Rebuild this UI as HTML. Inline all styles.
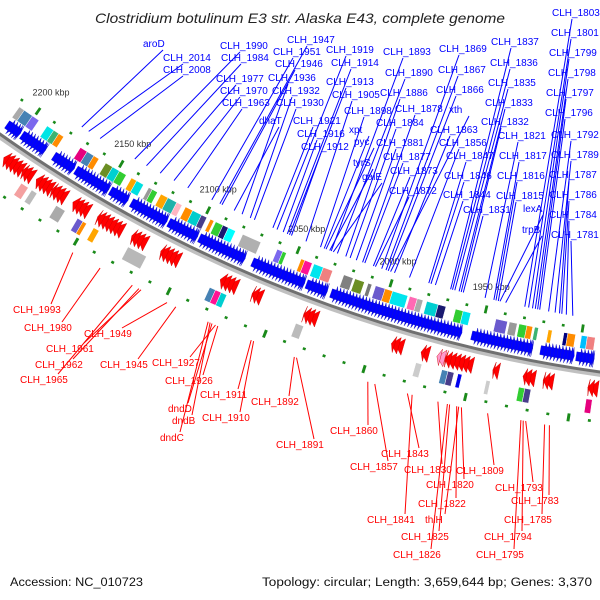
<!DOCTYPE html>
<html><head><meta charset="utf-8"><title>Clostridium botulinum E3 genome map</title>
<style>html,body{margin:0;padding:0;background:#fff;}svg{display:block;font-family:"Liberation Sans",sans-serif;}</style>
</head><body>
<svg id="map" width="600" height="600" viewBox="0 0 600 600" xmlns="http://www.w3.org/2000/svg">
<text x="95" y="23" font-size="14" font-style="italic" fill="#222" textLength="410" lengthAdjust="spacingAndGlyphs">Clostridium botulinum E3 str. Alaska E43, complete genome</text>
<g id="features"></g>
<g id="labels"></g>
<text x="10" y="586" font-size="11.5" fill="#111" textLength="133" lengthAdjust="spacingAndGlyphs">Accession: NC_010723</text>
<text x="262" y="586" font-size="11.5" fill="#111" textLength="330" lengthAdjust="spacingAndGlyphs">Topology: circular; Length: 3,659,644 bp; Genes: 3,370</text>
</svg>
<script>
// ---- data (kbp) ----
const tickKbp = [2200, 2150, 2100, 2050, 2000, 1950];
const tickText = ["2200 kbp", "2150 kbp", "2100 kbp", "2050 kbp", "2000 kbp", "1950 kbp"];
const fwdRuns = [[2209,2201],[2200,2186],[2181,2169],[2168,2149],[2148,2138],[2136,2116],[2115,2099],[2098,2073],[2069,2041],[2040,2029],[2027,1959],[1954,1923],[1919,1902],[1901,1892]];
const revRuns = [[2190,2201],[2184,2190],[2173,2182],[2165,2173],[2152,2161],[2133,2147],[2120,2128],[2102,2112],[2071,2080],[2058,2063],[2029,2036],[1985,1991],[1972,1976],[1950,1964],[1937,1940],[1919,1925],[1910,1915],[1888,1893]];
const pinkRun = [1964,1968];
const fwdBoxes = [[2209,2206,"#aaaaaa"],[2206,2201,"#4682b4"],[2201,2197,"#7b68ee"],[2192,2188,"#00e5e5"],[2188,2185,"#3cb371"],[2185,2182,"#ff8c00"],[2172,2168,"#e6007e"],[2168,2164,"#4682b4"],[2164,2161,"#ff8c00"],[2157,2153,"#6b8e23"],[2153,2149,"#00d0d0"],[2149,2145,"#32cd32"],[2142,2139,"#ffa500"],[2139,2135,"#00e0e0"],[2132,2130,"#999999"],[2130,2127,"#32cd32"],[2125,2121,"#ffa500"],[2121,2116,"#20b2aa"],[2116,2113,"#ffb6c1"],[2111,2107,"#ff8c00"],[2107,2102,"#00cdcd"],[2102,2099,"#483d8b"],[2097,2095,"#ff8c00"],[2094,2090,"#32cd32"],[2090,2087,"#191970"],[2087,2083,"#00ffff"],[2079,2069,"#b0b0b0"],[2060,2057,"#7b68ee"],[2057,2055,"#32cd32"],[2047,2045,"#ff8c00"],[2045,2041,"#ff1493"],[2040,2035,"#00e5ee"],[2035,2030,"#f08080"],[2024,2019,"#808080"],[2018,2013,"#6b8e23"],[2011,2009,"#777777"],[2007,2002,"#6a5acd"],[2002,1998,"#ff8c00"],[1998,1990,"#00e5ee"],[1989,1985,"#ff69b4"],[1985,1982,"#aaaaaa"],[1980,1974,"#00ced1"],[1974,1970,"#191970"],[1965,1961,"#32cd32"],[1961,1957,"#00e5ee"],[1944,1938,"#6a5acd"],[1937,1933,"#999999"],[1932,1928,"#32cd32"],[1928,1925,"#ff8c00"],[1924,1922,"#3cb371"],[1917,1915,"#ffa500"],[1909,1907,"#000080"],[1907,1903,"#ff8c00"],[1900,1897,"#00bfff"],[1897,1893,"#f08080"]];
const revBoxes = [[2208,2205,"#aaaaaa"],[2204,2202,"#eeee99"],[2187,2183,"#f4a0a0"],[2181,2178,"#bbbbbb"],[2167,2162,"#aaaaaa"],[2155,2152,"#6a5acd"],[2152,2150,"#ff8c00"],[2146,2143,"#ffa500"],[2127,2117,"#b8b8b8"],[2083,2080,"#4682b4"],[2080,2077,"#ff1493"],[2077,2074,"#00ced1"],[2038,2034,"#bbbbbb"],[1977,1974,"#cccccc"],[1964,1961,"#4682b4"],[1961,1958,"#483d8b"],[1956,1954,"#0000ee"],[1942,1940,"#cccccc"],[1926,1923,"#32cd32"],[1923,1920,"#483d8b"],[1893,1890,"#e6007e"]];
const blueNames = ["CLH_1803","CLH_1801","CLH_1799","CLH_1798","CLH_1797","CLH_1796","CLH_1792","CLH_1789","CLH_1787","CLH_1786","CLH_1784","CLH_1781","CLH_1837","CLH_1836","CLH_1835","CLH_1833","CLH_1832","CLH_1821","CLH_1817","CLH_1816","CLH_1815","lexA","trpB","CLH_1869","CLH_1867","CLH_1866","xth","CLH_1863","CLH_1856","CLH_1847","CLH_1846","CLH_1844","CLH_1831","CLH_1893","CLH_1890","CLH_1886","CLH_1878","CLH_1884","CLH_1881","CLH_1877","CLH_1873","CLH_1872","CLH_1919","CLH_1914","CLH_1913","CLH_1905","CLH_1898","xpt","pyc","tyrS","galE","CLH_1947","CLH_1951","CLH_1946","CLH_1936","CLH_1932","CLH_1930","CLH_1921","CLH_1916","CLH_1912","dhaT","CLH_1990","CLH_1984","CLH_1977","CLH_1970","CLH_1963","aroD","CLH_2014","CLH_2008"];
const blueKbp = [1931,1929,1927,1925.5,1924.3,1923.2,1918.6,1915.2,1912.9,1911.7,1909.4,1906,1970,1969,1967.8,1965.5,1964.4,1951.8,1947.2,1946.1,1944.9,1944,1941,2006.8,2004.5,2003.3,2002,1999.9,1991.9,1981.6,1980.4,1978.1,1963.3,2034.2,2030.8,2026.2,2017.1,2023.9,2020.5,2015.9,2011.3,2010.2,2064,2058.3,2057.1,2048,2040,2038,2037,2035,2033,2096.1,2100.7,2094.9,2083.5,2078.9,2076.6,2066.3,2060.6,2056,2088,2145.3,2138.4,2130.4,2122.4,2114.4,2177,2172.8,2165.9];
const redNames = ["CLH_1993","CLH_1980","CLH_1949","CLH_1961","CLH_1962","CLH_1965","CLH_1945","CLH_1927","CLH_1926","CLH_1911","dndD","CLH_1892","CLH_1910","dndB","dndC","CLH_1891","CLH_1860","CLH_1843","CLH_1857","CLH_1830","CLH_1809","CLH_1820","CLH_1793","CLH_1783","CLH_1822","CLH_1785","CLH_1841","thiH","CLH_1794","CLH_1825","CLH_1795","CLH_1826"];
const redKbp = [2148.7,2133.9,2098.4,2112.1,2113.2,2116.7,2093.8,2073.2,2072,2054.9,2075,2033.1,2053.7,2076,2077,2032,1996.5,1977,1993,1962.1,1938,1950.7,1919.7,1908.3,1953,1910.6,1974.7,1952,1920.9,1956.4,1922,1957.5];
// ---- layout (label anchor pixels) ----
const bluePos = [[552,16],[551,36],[549,56],[548,76],[546,96],[545,116],[551,138],[551,158],[549,178],[549,198],[549,218],[551,238],[491,45],[490,66],[488,86],[485,106],[481,125],[498,139],[499,159],[497,179],[496,199],[523,212],[522,233],[439,52],[438,73],[436,93],[449,113],[430,133],[439,146],[446,159],[444,179],[443,198],[463,213],[383,55],[385,76],[380,96],[395,112],[376,126],[376,146],[383,160],[390,174],[389,194],[326,53],[331,66],[326,85],[332,98],[344,114],[349,133],[354,145],[353,166],[362,180],[287,43],[273,55],[275,67],[268,81],[272,94],[276,106],[293,124],[297,137],[301,150],[259,124],[220,49],[221,61],[216,82],[220,94],[222,106],[143,47],[163,61],[163,73]];
const redPos = [[13,313],[24,331],[84,337],[46,352],[35,368],[20,383],[100,368],[152,366],[165,384],[200,398],[168,412],[251,405],[202,421],[172,424],[160,441],[276,448],[330,434],[381,457],[350,470],[404,473],[456,474],[426,488],[495,491],[511,504],[418,507],[504,523],[367,523],[425,523],[484,540],[401,540],[476,558],[393,558]];

const NS = "http://www.w3.org/2000/svg";
const CX = 792, CY = -988, R0 = 1372;
function ang(k){ return (103.27 + (k - 1950) * 0.0847) * Math.PI / 180; }
function pt(k, dr){ const a = ang(k), R = R0 + dr; return [CX + R * Math.cos(a), CY + R * Math.sin(a)]; }
function ptsStr(arr){ return arr.map(p => p[0].toFixed(1) + "," + p[1].toFixed(1)).join(" "); }
const feat = document.getElementById("features");
const labs = document.getElementById("labels");
function mk(tag, parent){ const e = document.createElementNS(NS, tag); parent.appendChild(e); return e; }

function arcPath(dr){ const p1 = pt(2230, dr), p2 = pt(1875, dr), R = R0 + dr;
  return "M" + p1[0].toFixed(1) + "," + p1[1].toFixed(1) + " A" + R + "," + R + " 0 0 0 " + p2[0].toFixed(1) + "," + p2[1].toFixed(1); }
let sh = mk("path", feat);


sh.setAttribute("d", arcPath(4.5)); sh.setAttribute("stroke", "#c0c0c0"); sh.setAttribute("stroke-width", "3.5"); sh.setAttribute("fill", "none");
let bb = mk("path", feat);


bb.setAttribute("d", arcPath(1.5)); bb.setAttribute("stroke", "#707070"); bb.setAttribute("stroke-width", "3"); bb.setAttribute("fill", "none");

for (let k = 1890; k <= 2210; k += 10) {
  const big = (k % 50 === 0);
  [[-39, 'forward-tick'], [51, 'reverse-tick']].forEach(([dr, nm]) => {
    const h = big ? 4 : 1.3;
    const q = [pt(k + 0.7, dr - h), pt(k - 0.7, dr - h), pt(k - 0.7, dr + h), pt(k + 0.7, dr + h)];
    const g = mk("polygon", feat);
    
    
    g.setAttribute("points", ptsStr(q)); g.setAttribute("fill", "#1a8a1a");
  });
}
tickKbp.forEach((k, i) => {
  const p = pt(k, -62);
  const t = mk("text", feat);
  
  
  t.setAttribute("x", p[0].toFixed(1)); t.setAttribute("y", (p[1] + 3).toFixed(1));
  t.setAttribute("text-anchor", "middle"); t.setAttribute("font-size", "9"); t.setAttribute("fill", "#333");
  t.textContent = tickText[i];
});
fwdRuns.forEach(run => {
  const [a, b] = run; const step = 1.7;
  for (let s = a; s > b + 0.3; s -= step) {
    const e = Math.max(b, s - step * 2.2), kh = e + (s - e) * 0.45;
    const poly = [pt(s, -15), pt(kh, -15), pt(kh, -19), pt(e, -10.5), pt(kh, -2), pt(kh, -6), pt(s, -6)];
    const g = mk("polygon", feat);
    
    
    g.setAttribute("points", ptsStr(poly)); g.setAttribute("fill", "#0000ff"); g.setAttribute("stroke", "#1818c0"); g.setAttribute("stroke-width", "0.4");
  }
});
function revArrows(run, color, nm){
  const [a, b] = run; const step = 2.2;
  for (let s = a; s < b - 0.3; s += step) {
    const e = Math.min(b, s + step * 1.8);
    const poly = [pt(s, 10), pt(e, 18.5), pt(s, 27)];
    const g = mk("polygon", feat);
    
    
    g.setAttribute("points", ptsStr(poly)); g.setAttribute("fill", color); g.setAttribute("stroke", "#c80000"); g.setAttribute("stroke-width", "0.4");
  }
}
revRuns.forEach(run => revArrows(run, "#ff0000", 'reverse-gene-arrow'));
revArrows(pinkRun, "#ff99cc", 'reverse-pseudo-arrow');
function boxes(list, d1, d2, nm){
  list.forEach(bx => {
    const q = [pt(bx[0], d1), pt(bx[1], d1), pt(bx[1], d2), pt(bx[0], d2)];
    const g = mk("polygon", feat);
    
    
    g.setAttribute("points", ptsStr(q)); g.setAttribute("fill", bx[2]); g.setAttribute("stroke", "#ffffff"); g.setAttribute("stroke-width", "0.5");
  });
}
boxes(fwdBoxes, -32, -19, 'forward-feature-box');
boxes(revBoxes, 30, 44, 'reverse-feature-box');

blueNames.forEach((nm, i) => {
  const [lx, ly] = bluePos[i];
  const p = pt(blueKbp[i], -50);
  const l = mk("line", labs);
  
  
  l.setAttribute("x1", lx + 20); l.setAttribute("y1", ly + 3); l.setAttribute("x2", p[0].toFixed(1)); l.setAttribute("y2", p[1].toFixed(1));
  l.setAttribute("stroke", "#0000ff"); l.setAttribute("stroke-width", "1");
  const t = mk("text", labs);
  
  
  t.setAttribute("x", lx); t.setAttribute("y", ly); t.setAttribute("font-size", "10"); t.setAttribute("fill", "#0000ff");
  t.textContent = nm;
});
redNames.forEach((nm, i) => {
  const [lx, ly] = redPos[i];
  const p = pt(redKbp[i], 62);
  const w = nm.length > 5 ? 38 : 20;
  const l = mk("line", labs);
  
  
  l.setAttribute("x1", lx + w); l.setAttribute("y1", ly - 9); l.setAttribute("x2", p[0].toFixed(1)); l.setAttribute("y2", p[1].toFixed(1));
  l.setAttribute("stroke", "#ff0000"); l.setAttribute("stroke-width", "1");
  const t = mk("text", labs);
  
  
  t.setAttribute("x", lx); t.setAttribute("y", ly); t.setAttribute("font-size", "10"); t.setAttribute("fill", "#ff0000");
  t.textContent = nm;
});
</script>
</body></html>
